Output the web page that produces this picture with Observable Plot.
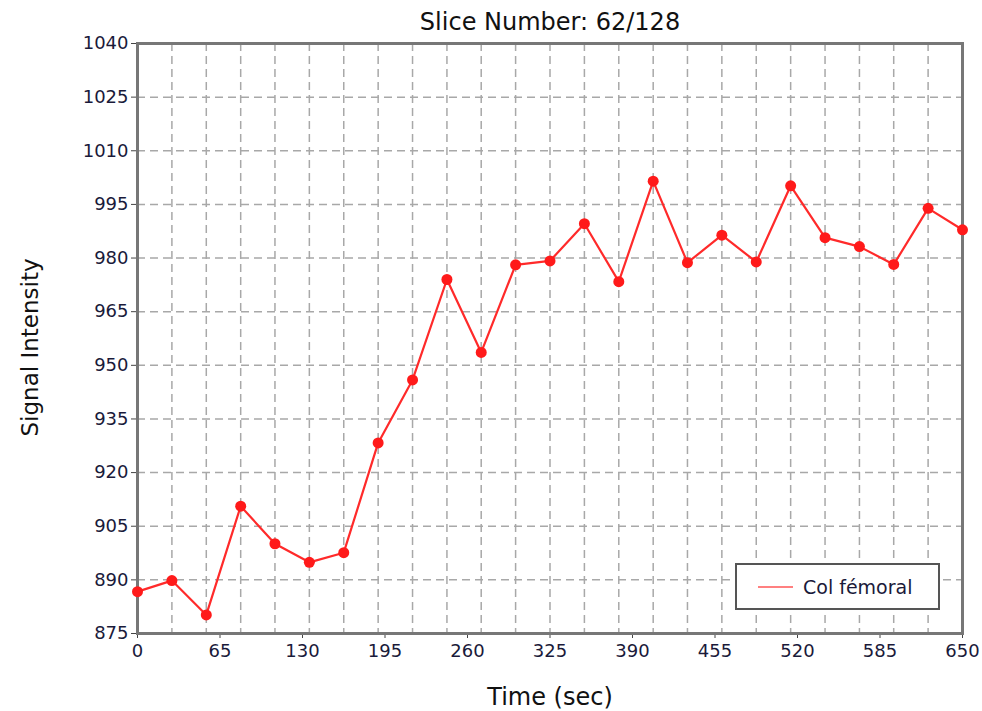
<!DOCTYPE html>
<html>
<head>
<meta charset="utf-8">
<script src="https://cdn.jsdelivr.net/npm/d3@7"></script>
<script src="https://cdn.jsdelivr.net/npm/@observablehq/plot@0.6"></script>
<style>
  body { margin: 0; background: #fff; }
  #wrap { position: relative; width: 982px; height: 711px; font-family: "DejaVu Sans", sans-serif; }
  #legend { position: absolute; left: 735px; top: 563px; width: 201px; height: 43px;
            border: 2px solid #555; background: #fff; display: flex; align-items: center; }
  #legend .sw { display: inline-block; width: 35px; height: 2px; background: #ff8080; margin-left: 21px; margin-right: 10px; }
  #legend .lt { font-size: 19px; color: #1a1a3a; }
</style>
</head>
<body>
<div id="wrap"></div>
<script>
const titleText = "Slice Number: 62/128";
const xLabel = "Time (sec)";
const yLabel = "Signal Intensity";
const seriesName = "Col fémoral";

const times = [0, 27.1, 54.2, 81.3, 108.3, 135.4, 162.5, 189.6, 216.7, 243.8, 270.8, 297.9, 325,
               352.1, 379.2, 406.3, 433.3, 460.4, 487.5, 514.6, 541.7, 568.8, 595.8, 622.9, 650];
const intensity = [886.7, 889.8, 880.2, 910.6, 900.1, 894.9, 897.6, 928.3, 945.9, 974.0, 953.6, 978.1, 979.2,
                   989.6, 973.4, 1001.5, 978.7, 986.4, 978.9, 1000.2, 985.7, 983.2, 978.2, 993.9, 987.9];
const xTicks = [0, 65, 130, 195, 260, 325, 390, 455, 520, 585, 650];
const yTicks = [875, 890, 905, 920, 935, 950, 965, 980, 995, 1010, 1025, 1040];

const data = times.map((t, i) => ({t, v: intensity[i]}));
const txtColor = "#1a1a3a";
const gridStyle = { stroke: "#a8a8a8", strokeOpacity: 1, strokeWidth: 1.5, strokeDasharray: "8,5" };

const chart = Plot.plot({
  width: 982,
  height: 711,
  marginLeft: 137,
  marginRight: 20,
  marginTop: 43,
  marginBottom: 78,
  style: { fontFamily: "DejaVu Sans, sans-serif", background: "#fff", overflow: "visible" },
  x: { domain: [0, 650] },
  y: { domain: [875, 1040] },
  marks: [
    Plot.gridY(yTicks, gridStyle),
    Plot.gridX(times, gridStyle),
    Plot.axisY(yTicks, { tickSize: 6, tickPadding: 3, fontSize: 18, fill: txtColor, stroke: "#444", label: null, tickFormat: d => String(d) }),
    Plot.axisX(xTicks, { tickSize: 5, tickPadding: 6, fontSize: 18, fill: txtColor, stroke: "#444", label: null, tickFormat: d => String(d) }),
    Plot.frame({ stroke: "#777", strokeWidth: 3 }),
    Plot.line(data, { x: "t", y: "v", stroke: "#ff2a2a", strokeWidth: 2.2 }),
    Plot.dot(data, { x: "t", y: "v", r: 5.5, fill: "#ff1a1a", stroke: "none" }),
    Plot.text([titleText], { frameAnchor: "top", lineAnchor: "middle", dy: -21, fontSize: 24, fill: "#111", letterSpacing: 1.5 }),
    Plot.text([xLabel], { frameAnchor: "bottom", lineAnchor: "middle", dy: 64, fontSize: 24, fill: "#111", letterSpacing: 0.8 }),
    Plot.text([yLabel], { frameAnchor: "left", textAnchor: "middle", lineAnchor: "middle", dx: -107, dy: 9, rotate: -90, fontSize: 23, fill: "#111" })
  ]
});
const wrap = document.getElementById("wrap");
wrap.appendChild(chart);
const leg = document.createElement("div");
leg.id = "legend";
leg.innerHTML = '<span class="sw"></span><span class="lt"></span>';
leg.querySelector(".lt").textContent = seriesName;
wrap.appendChild(leg);
</script>
</body>
</html>
